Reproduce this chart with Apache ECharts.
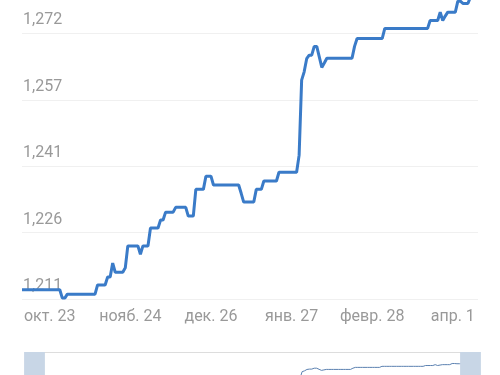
<!DOCTYPE html>
<html>
<head>
<meta charset="utf-8">
<script src="https://cdn.jsdelivr.net/npm/echarts@6/dist/echarts.min.js"></script>
<style>
  html, body { margin: 0; padding: 0; background: #fff; }
  #main { width: 500px; height: 375px; }
</style>
</head>
<body>
<div id="main"></div>
<script>
// daily dates, first one is 12 Oct
var startDate = new Date(2022, 9, 12);
var dayCount = 182;
var monthNames = ['янв.', 'февр.', 'мар.', 'апр.', 'мая', 'июн.', 'июл.', 'авг.', 'сент.', 'окт.', 'нояб.', 'дек.'];

var dates = [];
for (var i = 0; i < dayCount; i++) {
    var d = new Date(startDate.getFullYear(), startDate.getMonth(), startDate.getDate() + i);
    dates.push(d.getFullYear() + '-' + (d.getMonth() + 1) + '-' + d.getDate());
}

// курс по дням
var rates = [
    1.2133, 1.2133, 1.2133, 1.2133, 1.2133, 1.2133, 1.2133, 1.2133, 1.2133, 1.2133,
    1.2133, 1.2133, 1.2133, 1.2133, 1.2133, 1.2133, 1.2114, 1.2114, 1.2123, 1.2123,
    1.2123, 1.2123, 1.2123, 1.2123, 1.2123, 1.2123, 1.2123, 1.2123, 1.2123, 1.2123,
    1.2144, 1.2144, 1.2144, 1.2144, 1.2162, 1.2162, 1.2194, 1.2173, 1.2173, 1.2173,
    1.2173, 1.2183, 1.2233, 1.2233, 1.2233, 1.2233, 1.2233, 1.2214, 1.2233, 1.2233,
    1.2233, 1.2274, 1.2274, 1.2274, 1.2274, 1.2292, 1.2292, 1.2310, 1.2310, 1.2310,
    1.2310, 1.2321, 1.2321, 1.2321, 1.2321, 1.2321, 1.2301, 1.2301, 1.2301, 1.2362,
    1.2362, 1.2362, 1.2362, 1.2392, 1.2392, 1.2392, 1.2372, 1.2372, 1.2372, 1.2372,
    1.2372, 1.2372, 1.2372, 1.2372, 1.2372, 1.2372, 1.2372, 1.2353, 1.2333, 1.2333,
    1.2333, 1.2333, 1.2333, 1.2362, 1.2362, 1.2362, 1.2381, 1.2381, 1.2381, 1.2381,
    1.2381, 1.2381, 1.2401, 1.2401, 1.2401, 1.2401, 1.2401, 1.2401, 1.2401, 1.2401,
    1.2440, 1.2611, 1.2630, 1.2660, 1.2668, 1.2668, 1.2688, 1.2688, 1.2664, 1.2640,
    1.2650, 1.2661, 1.2661, 1.2661, 1.2661, 1.2661, 1.2661, 1.2661, 1.2661, 1.2661,
    1.2661, 1.2661, 1.2688, 1.2706, 1.2706, 1.2706, 1.2706, 1.2706, 1.2706, 1.2706,
    1.2706, 1.2706, 1.2706, 1.2706, 1.2729, 1.2729, 1.2729, 1.2729, 1.2729, 1.2729,
    1.2729, 1.2729, 1.2729, 1.2729, 1.2729, 1.2729, 1.2729, 1.2729, 1.2729, 1.2729,
    1.2729, 1.2729, 1.2747, 1.2747, 1.2747, 1.2747, 1.2766, 1.2747, 1.2757, 1.2766,
    1.2766, 1.2766, 1.2766, 1.2791, 1.2791, 1.2786, 1.2786, 1.2786, 1.2800, 1.2830,
    1.2830, 1.2830
];

var labelStart = 11;   // окт. 23
var labelStep = 32;
var yMin = 1.2112;
var yStep = 0.01514;

var myChart = echarts.init(document.getElementById('main'));

var option = {
    animation: false,
    grid: {
        left: 22,
        right: 22,
        top: -33,
        bottom: 76,
        outerBoundsMode: 'none',
        containLabel: false
    },
    xAxis: {
        type: 'category',
        data: dates,
        boundaryGap: false,
        axisLine: { show: false },
        axisTick: { show: false },
        splitLine: { show: false },
        axisLabel: {
            margin: 10,
            color: '#999',
            fontSize: 16,
            fontFamily: 'Roboto',
            interval: function (idx) {
                return idx >= labelStart && (idx - labelStart) % labelStep === 0;
            },
            formatter: function (val) {
                var p = val.split('-');
                return monthNames[+p[1] - 1] + ' ' + p[2];
            }
        }
    },
    yAxis: {
        type: 'value',
        min: yMin,
        max: yMin + 5 * yStep,
        interval: yStep,
        axisLine: { show: false },
        axisTick: { show: false },
        splitLine: { lineStyle: { color: '#f0f0f0', width: 1 } },
        axisLabel: {
            inside: true,
            margin: 1,
            color: '#999',
            fontSize: 16,
            fontFamily: 'Roboto',
            verticalAlign: 'bottom',
            padding: [0, 0, 5, 0],
            formatter: function (v) {
                return v.toFixed(3).replace('.', ',');
            }
        }
    },
    dataZoom: [{
        type: 'slider',
        xAxisIndex: 0,
        start: 0,
        end: 100,
        left: 31,
        right: 31,
        top: 352,
        height: 52,
        showDetail: false,
        brushSelect: false,
        moveHandleSize: 0,
        backgroundColor: '#fff',
        borderColor: '#ddd',
        fillerColor: 'rgba(0,0,0,0)',
        handleIcon: 'path://M3,0 H13 A3,3 0 0 1 16,3 V40 H0 V3 A3,3 0 0 1 3,0 Z',
        handleSize: '100%',
        handleStyle: { color: '#c8d6e6', borderWidth: 0 },
        dataBackground: {
            lineStyle: { color: '#5b80b0', width: 1, opacity: 1 },
            areaStyle: { opacity: 0 }
        },
        selectedDataBackground: {
            lineStyle: { color: '#5b80b0', width: 1, opacity: 1 },
            areaStyle: { opacity: 0 }
        }
    }],
    series: [{
        type: 'line',
        data: rates,
        showSymbol: false,
        symbol: 'none',
        lineStyle: { color: '#3a7bc8', width: 3 },
        itemStyle: { color: '#3a7bc8' }
    }]
};

myChart.setOption(option);
</script>
</body>
</html>
